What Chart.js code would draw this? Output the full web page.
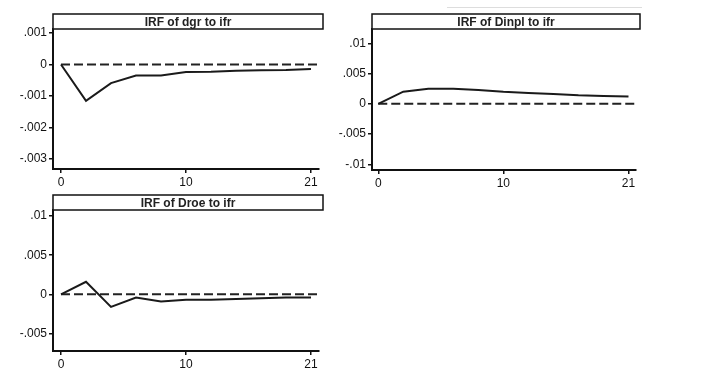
<!DOCTYPE html>
<html>
<head>
<meta charset="utf-8">
<script src="https://cdn.jsdelivr.net/npm/chart.js@4.4.1/dist/chart.umd.min.js"></script>
<style>
  body { margin: 0; background: #fff; width: 707px; height: 376px; position: relative; overflow: hidden; }
  .panel { position: absolute; }
  #topRule { position: absolute; left: 447px; top: 7px; width: 195px; border-top: 1px solid #ddd; }
</style>
</head>
<body>
<div id="topRule"></div>
<div class="panel" style="left:0px;top:0px;width:335px;height:190px"><canvas id="c1"></canvas></div>
<div class="panel" style="left:330px;top:0px;width:320px;height:190px"><canvas id="c2"></canvas></div>
<div class="panel" style="left:0px;top:185px;width:335px;height:191px"><canvas id="c3"></canvas></div>
<script>
// impulse response steps and values
const steps = [0, 2, 4, 6, 8, 10, 12, 14, 16, 18, 20];
const dgrIrf = [0, -0.00115, -0.00059, -0.00035, -0.00035, -0.00024, -0.00023, -0.0002, -0.00018, -0.00017, -0.00014];
const dinplIrf = [0, 0.002, 0.0025, 0.0025, 0.0023, 0.002, 0.0018, 0.0016, 0.0014, 0.0013, 0.0012];
const droeIrf = [0, 0.0016, -0.0016, -0.0004, -0.0009, -0.0007, -0.0007, -0.0006, -0.0005, -0.0004, -0.0004];

const xTickValues = [0, 10, 20];
const xTickLabels = ["0", "10", "21"];

const dgrTicks = [0.001, 0, -0.001, -0.002, -0.003];
const dgrTickLabels = [".001", "0", "-.001", "-.002", "-.003"];
const dinplTicks = [0.01, 0.005, 0, -0.005, -0.01];
const dinplTickLabels = [".01", ".005", "0", "-.005", "-.01"];
const droeTicks = [0.01, 0.005, 0, -0.005];
const droeTickLabels = [".01", ".005", "0", "-.005"];

const FONT = "'Liberation Sans', Arial, sans-serif";

// title box above the plot + dashed zero line
const stataFrame = {
  id: "stataFrame",
  beforeDatasetsDraw(chart) {
    const ctx = chart.ctx;
    const a = chart.chartArea;
    const y0 = chart.scales.y.getPixelForValue(0);
    const x0 = chart.scales.x.getPixelForValue(0);
    ctx.save();
    ctx.strokeStyle = "#222";
    ctx.lineWidth = 2;
    ctx.setLineDash([9, 4]);
    ctx.beginPath();
    ctx.moveTo(x0, y0);
    ctx.lineTo(a.right, y0);
    ctx.stroke();
    ctx.restore();
  },
  afterDraw(chart, args, opts) {
    const ctx = chart.ctx;
    const a = chart.chartArea;
    const h = opts.boxHeight;
    ctx.save();
    ctx.fillStyle = "#fff";
    ctx.fillRect(a.left, a.top - h, a.right - a.left + 4, h);
    ctx.strokeStyle = "#111";
    ctx.lineWidth = 1.5;
    ctx.strokeRect(a.left, a.top - h, a.right - a.left + 4, h);
    ctx.fillStyle = "#222";
    ctx.font = "bold 12px " + FONT;
    ctx.textAlign = "center";
    ctx.textBaseline = "middle";
    ctx.fillText(opts.text, (a.left + a.right + 4) / 2, a.top - h / 2 + 1);
    ctx.restore();
  }
};

function makePanel(id, title, values, yTicks, yLabels, cfg) {
  new Chart(document.getElementById(id), {
    type: "line",
    data: {
      datasets: [{
        data: steps.map((s, i) => ({ x: s, y: values[i] })),
        borderColor: "#1a1a1a",
        borderWidth: 2,
        pointRadius: 0,
        tension: 0,
        fill: false
      }]
    },
    options: {
      responsive: true,
      maintainAspectRatio: false,
      animation: false,
      layout: { padding: { top: cfg.top, right: cfg.right, left: 0, bottom: 0 } },
      plugins: {
        legend: { display: false },
        tooltip: { enabled: false },
        stataFrame: { text: title, boxHeight: 15 }
      },
      scales: {
        x: {
          type: "linear",
          min: cfg.xMin,
          max: cfg.xMax,
          afterBuildTicks: (s) => { s.ticks = xTickValues.map(v => ({ value: v })); },
          afterFit: (s) => { s.height = cfg.xHeight; },
          ticks: {
            color: "#111",
            font: { family: FONT, size: 12 },
            padding: 2,
            maxRotation: 0,
            callback: (v) => xTickLabels[xTickValues.indexOf(v)]
          },
          grid: { drawOnChartArea: false, drawTicks: true, tickLength: 4, color: "#111", lineWidth: 1.5 },
          border: { display: true, color: "#111", width: 2 }
        },
        y: {
          min: cfg.yMin,
          max: cfg.yMax,
          afterBuildTicks: (s) => { s.ticks = yTicks.map(v => ({ value: v })); },
          afterFit: (s) => { s.width = cfg.yWidth; },
          ticks: {
            color: "#111",
            font: { family: FONT, size: 12 },
            padding: 2,
            callback: (v) => yLabels[yTicks.indexOf(v)]
          },
          grid: { drawOnChartArea: false, drawTicks: true, tickLength: 4, color: "#111", lineWidth: 1.5 },
          border: { display: true, color: "#111", width: 2 }
        }
      }
    },
    plugins: [stataFrame]
  });
}

document.addEventListener("DOMContentLoaded", () => {
  makePanel("c1", "IRF of dgr to ifr", dgrIrf, dgrTicks, dgrTickLabels,
    { top: 29, right: 16, yWidth: 53, xHeight: 21, xMin: -0.64, xMax: 20.64, yMin: -0.00332, yMax: 0.00113 });
  makePanel("c2", "IRF of Dinpl to ifr", dinplIrf, dinplTicks, dinplTickLabels,
    { top: 29, right: 14, yWidth: 42, xHeight: 20, xMin: -0.5, xMax: 20.6, yMin: -0.01094, yMax: 0.01236 });
  makePanel("c3", "IRF of Droe to ifr", droeIrf, droeTicks, droeTickLabels,
    { top: 25, right: 16, yWidth: 53, xHeight: 25, xMin: -0.64, xMax: 20.64, yMin: -0.00723, yMax: 0.01077 });
});
</script>
</body>
</html>
